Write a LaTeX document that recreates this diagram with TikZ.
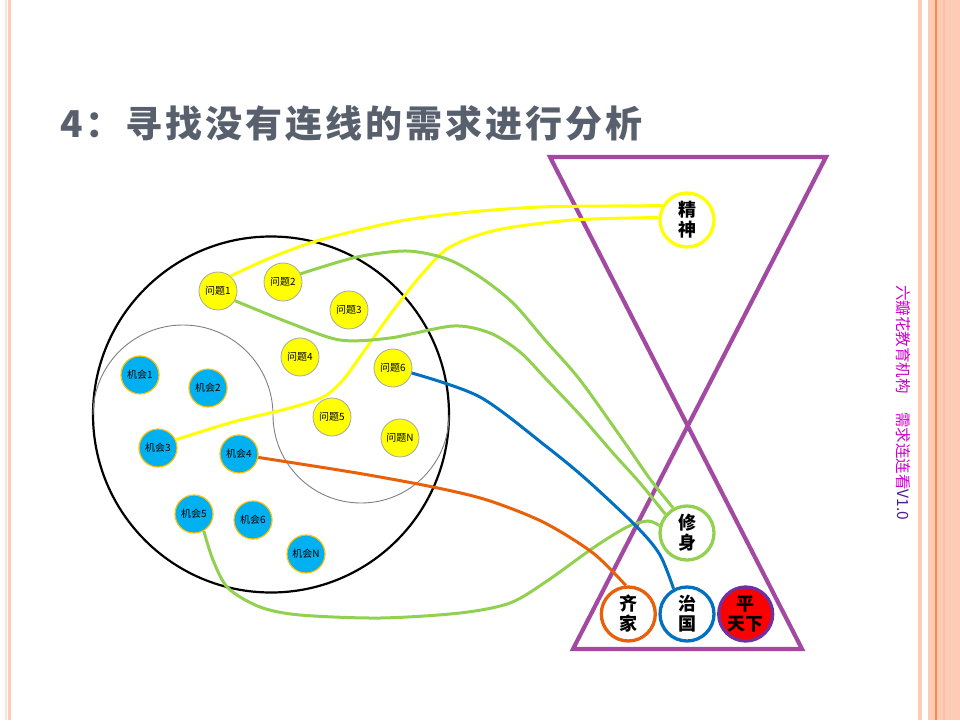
\documentclass[tikz,border=0pt]{standalone}
\usepackage{fontspec}
\setmainfont{Noto Sans CJK SC}
\newfontfamily\titlefont[LetterSpace=8]{Noto Sans CJK SC}
\definecolor{stripe}{HTML}{FECBB6}
\definecolor{stripepale}{HTML}{FDE2D7}
\definecolor{stripedark}{HTML}{FDBFA6}
\definecolor{stripeline}{HTML}{FF8A3C}
\definecolor{titlegray}{HTML}{58606D}
\definecolor{brandpink}{HTML}{CC00CC}
\definecolor{brandpurple}{HTML}{4E1E8E}
\definecolor{glass}{HTML}{A24AA2}
\definecolor{wentifill}{HTML}{FFFF00}
\definecolor{wentiedge}{HTML}{A6A6A6}
\definecolor{jihuifill}{HTML}{00B0F0}
\definecolor{jihuiedge}{HTML}{FFC000}
\definecolor{lgreen}{HTML}{92D050}
\definecolor{lblue}{HTML}{0070C0}
\definecolor{lorange}{HTML}{E8600A}
\definecolor{ptxedge}{HTML}{7030A0}
\tikzset{
  wenti/.style={circle,draw=wentiedge,fill=wentifill,line width=0.8pt,minimum size=38pt,inner sep=0pt,font=\fontsize{10}{10}\selectfont},
  jihui/.style={circle,draw=jihuiedge,fill=jihuifill,line width=1.2pt,minimum size=38pt,inner sep=0pt,font=\fontsize{10}{10}\selectfont},
  ringnode/.style={circle,fill=white,line width=3.3pt,minimum size=54pt,inner sep=0pt,align=center,font=\bfseries\fontsize{18}{20}\selectfont},
  linkline/.style={line width=3pt}
}
\begin{document}
\begin{tikzpicture}[x=1pt,y=-1pt]
  \useasboundingbox (0,0) rectangle (960,720);
  %\draw (0,0) to[grid with coordinates] (960,720);
  \fill[stripepale] (5,0) rectangle (6.5,720);
  \fill[stripe] (8,0) rectangle (11,720);
  \fill[stripe] (918,0) rectangle (922,720);
  \fill[stripe] (928,0) rectangle (960,720);
  \fill[stripedark] (943,0) rectangle (945,720);
  \draw[stripeline,line width=1.2pt] (936,0) -- (936,720);

  \node[anchor=base west,inner sep=0pt,text=titlegray,font={\titlefont\bfseries\fontsize{37}{37}\selectfont}] (title) at (60,137) {4：寻找没有连线的需求进行分析};
  \node[rotate=-90,inner sep=0pt,text=brandpink,font=\fontsize{15.5}{15.5}\selectfont] (brand) at (903,402.5) {六瓣花教育机构　\hspace{3pt}需求连连看\textcolor{brandpurple}{V1.0}};

  \draw[glass,line width=4.2pt] (550,157) -- (826,157) -- (573,649) -- (802,649) -- cycle;

  \draw[line width=2.2pt] (271,414.5) circle[radius=178pt];
  \draw[gray,line width=0.9pt] (93,415) .. controls (93,365.3) and (133.3,325) .. (183,325)
    .. controls (232.7,325) and (273,365.3) .. (273,415)
    .. controls (273,463.6) and (312.4,503) .. (361,503)
    .. controls (409.6,503) and (449,463.6) .. (449,415);

  \node[wenti] (q1) at (218,291) {问题1};
  \node[wenti] (q2) at (283,282) {问题2};
  \node[wenti] (q3) at (349,310) {问题3};
  \node[wenti] (q4) at (300,357) {问题4};
  \node[wenti] (q6) at (393,368) {问题6};
  \node[wenti] (q5) at (332,417) {问题5};
  \node[wenti] (qN) at (400,438) {问题N};

  \node[jihui] (k1) at (140,375) {机会1};
  \node[jihui] (k2) at (208,388) {机会2};
  \node[jihui] (k3) at (158,448) {机会3};
  \node[jihui] (k4) at (239,454) {机会4};
  \node[jihui] (k5) at (194,514) {机会5};
  \node[jihui] (k6) at (253,520) {机会6};
  \node[jihui] (kN) at (306,554) {机会N};

  \node[ringnode,draw=wentifill] (js) at (687,220) {精\\神};
  \node[ringnode,draw=lgreen] (xs) at (687,533) {修\\身};
  \node[ringnode,draw=lorange] (qj) at (628.3,614) {齐\\家};
  \node[ringnode,draw=lblue] (zg) at (687,614) {治\\国};
  \node[ringnode,draw=ptxedge,fill=red] (ptx) at (745.7,614) {平\\天下};

  \draw[linkline,wentifill] plot[smooth] coordinates {(q1.50) (270,258) (320,240) (400,221) (470,212) (540,207) (610,206) (js.150)};
  \draw[linkline,wentifill] plot[smooth] coordinates {(k3.25) (233,422) (290,408) (323,397) (343,380) (367,347) (395,308) (423,273) (450,247) (497,230) (573,220) (js.175)};
  \draw[linkline,lgreen] plot[smooth] coordinates {(q2.25) (357,257) (407,251) (447,259) (480,277) (513,303) (545,340) (580,380) (625,443) (650,479) (xs.119)};
  \draw[linkline,lgreen] plot[smooth] coordinates {(q1.-30) (290,323) (340,340) (390,338) (453,326) (490,333) (520,352) (547,380) (580,415) (613,453) (640,483) (xs.139)};
  \draw[linkline,lgreen] plot[smooth] coordinates {(k5.-60) (213,560) (228,588) (260,607) (300,615) (380,618) (460,613) (510,603) (547,581) (593,548) (627,527) (648,521) (xs.165)};
  \draw[linkline,lblue] plot[smooth] coordinates {(q6.-15) (480,397) (547,447) (587,480) (637,527) (660,555) (zg.118)};
  \draw[linkline,lorange] plot[smooth] coordinates {(k4.-10) (357,473) (433,487) (487,500) (543,522) (593,553) (qj.95)};

\end{tikzpicture}
\end{document}
